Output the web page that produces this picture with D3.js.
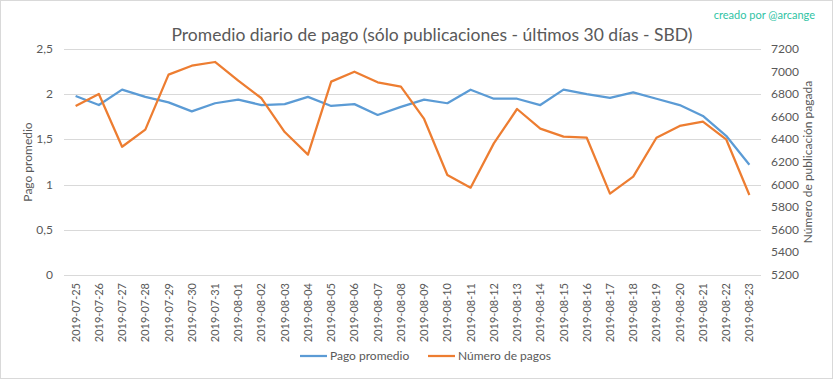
<!DOCTYPE html>
<html>
<head>
<meta charset="utf-8">
<script src="https://cdn.jsdelivr.net/npm/d3@7"></script>
<style>
    body { margin: 0; background: #fff; }
    svg { display: block; font-family: Lato, "Open Sans", sans-serif; }
</style>
</head>
<body>
<svg width="833" height="379"></svg>
<script>
    const dates = ['2019-07-25', '2019-07-26', '2019-07-27', '2019-07-28', '2019-07-29', '2019-07-30',
        '2019-07-31', '2019-08-01', '2019-08-02', '2019-08-03', '2019-08-04', '2019-08-05',
        '2019-08-06', '2019-08-07', '2019-08-08', '2019-08-09', '2019-08-10', '2019-08-11',
        '2019-08-12', '2019-08-13', '2019-08-14', '2019-08-15', '2019-08-16', '2019-08-17',
        '2019-08-18', '2019-08-19', '2019-08-20', '2019-08-21', '2019-08-22', '2019-08-23'];

    // Pago promedio (left axis)
    const pagoPromedio = [1.98, 1.88, 2.05, 1.97, 1.91, 1.81, 1.90, 1.94, 1.88, 1.89,
        1.97, 1.87, 1.89, 1.77, 1.86, 1.94, 1.90, 2.05, 1.95, 1.95,
        1.88, 2.05, 2.00, 1.96, 2.02, 1.95, 1.88, 1.76, 1.54, 1.22];

    // Número de pagos (right axis)
    const numeroPagos = [6695, 6802, 6335, 6486, 6973, 7052, 7085, 6920, 6764, 6465,
        6265, 6911, 6999, 6905, 6867, 6581, 6085, 5973, 6365, 6669,
        6495, 6424, 6415, 5920, 6070, 6415, 6519, 6557, 6401, 5908];

    const leftTicks = [0, 0.5, 1, 1.5, 2, 2.5];
    const rightTicks = [5200, 5400, 5600, 5800, 6000, 6200, 6400, 6600, 6800, 7000, 7200];

    const BLUE = '#5b9bd5', ORANGE = '#ed7d31', GRID = '#d9d9d9', TEXT = '#595959';
    const PLOT_LEFT = 64, PLOT_RIGHT = 761, PLOT_TOP = 49, PLOT_BOTTOM = 275;

    const svg = d3.select('svg');

    // outer border
    svg.append('rect')
        .attr('x', 0.5).attr('y', 0.5)
        .attr('width', 832).attr('height', 378)
        .attr('fill', '#fff').attr('stroke', GRID);

    const x = d3.scaleBand().domain(dates).range([PLOT_LEFT, PLOT_RIGHT]);
    const yL = d3.scaleLinear().domain([0, 2.5]).range([PLOT_BOTTOM, PLOT_TOP]);
    const yR = d3.scaleLinear().domain([5200, 7200]).range([PLOT_BOTTOM, PLOT_TOP]);

    // gridlines
    svg.append('g')
        .selectAll('line')
        .data(leftTicks)
        .join('line')
        .attr('x1', PLOT_LEFT).attr('x2', PLOT_RIGHT)
        .attr('y1', d => Math.round(yL(d)) + 0.5)
        .attr('y2', d => Math.round(yL(d)) + 0.5)
        .attr('stroke', GRID).attr('stroke-width', 1);

    // left axis labels
    svg.append('g')
        .selectAll('text')
        .data(leftTicks)
        .join('text')
        .attr('x', 53)
        .attr('y', d => yL(d) + 4)
        .attr('text-anchor', 'end')
        .attr('font-size', 12).attr('fill', TEXT)
        .text(d => String(d).replace('.', ','));

    // right axis labels
    svg.append('g')
        .selectAll('text')
        .data(rightTicks)
        .join('text')
        .attr('x', 771)
        .attr('y', d => yR(d) + 4)
        .attr('text-anchor', 'start')
        .attr('font-size', 12).attr('fill', TEXT)
        .text(d => d);

    // x labels
    svg.append('g')
        .selectAll('text')
        .data(dates)
        .join('text')
        .attr('transform', d => `translate(${x(d) + x.bandwidth() / 2 + 4},283) rotate(-90)`)
        .attr('text-anchor', 'end')
        .attr('font-size', 11).attr('fill', TEXT)
        .text(d => d);

    // axis titles
    svg.append('text')
        .attr('transform', 'translate(32,162) rotate(-90)')
        .attr('text-anchor', 'middle')
        .attr('font-size', 12).attr('fill', TEXT)
        .text('Pago promedio');

    svg.append('text')
        .attr('transform', 'translate(812,162) rotate(-90)')
        .attr('text-anchor', 'middle')
        .attr('font-size', 12).attr('fill', TEXT)
        .text('Número de publicación pagada');

    // title
    svg.append('text')
        .attr('x', 432).attr('y', 41)
        .attr('text-anchor', 'middle')
        .attr('font-size', 17.5).attr('fill', TEXT)
        .text('Promedio diario de pago (sólo publicaciones - últimos 30 días - SBD)');

    svg.append('text')
        .attr('x', 815).attr('y', 19)
        .attr('text-anchor', 'end')
        .attr('font-size', 11).attr('fill', '#2fc3a4')
        .text('creado por @arcange');

    const cx = d => x(d) + x.bandwidth() / 2;

    const lineL = d3.line().x((d, i) => cx(dates[i])).y(d => yL(d));
    const lineR = d3.line().x((d, i) => cx(dates[i])).y(d => yR(d));

    svg.append('path')
        .datum(pagoPromedio)
        .attr('d', lineL)
        .attr('fill', 'none').attr('stroke', BLUE)
        .attr('stroke-width', 2.25).attr('stroke-linejoin', 'round');

    svg.append('path')
        .datum(numeroPagos)
        .attr('d', lineR)
        .attr('fill', 'none').attr('stroke', ORANGE)
        .attr('stroke-width', 2.25).attr('stroke-linejoin', 'round');

    // legend
    const legend = [
        { name: 'Pago promedio', color: BLUE, x: 300 },
        { name: 'Número de pagos', color: ORANGE, x: 428 }
    ];
    const lg = svg.append('g')
        .selectAll('g')
        .data(legend)
        .join('g')
        .attr('transform', d => `translate(${d.x},356)`);
    lg.append('line')
        .attr('x1', 0).attr('x2', 27)
        .attr('stroke', d => d.color).attr('stroke-width', 2.25);
    lg.append('text')
        .attr('x', 30).attr('y', 4)
        .attr('font-size', 12).attr('fill', TEXT)
        .text(d => d.name);
</script>
</body>
</html>
